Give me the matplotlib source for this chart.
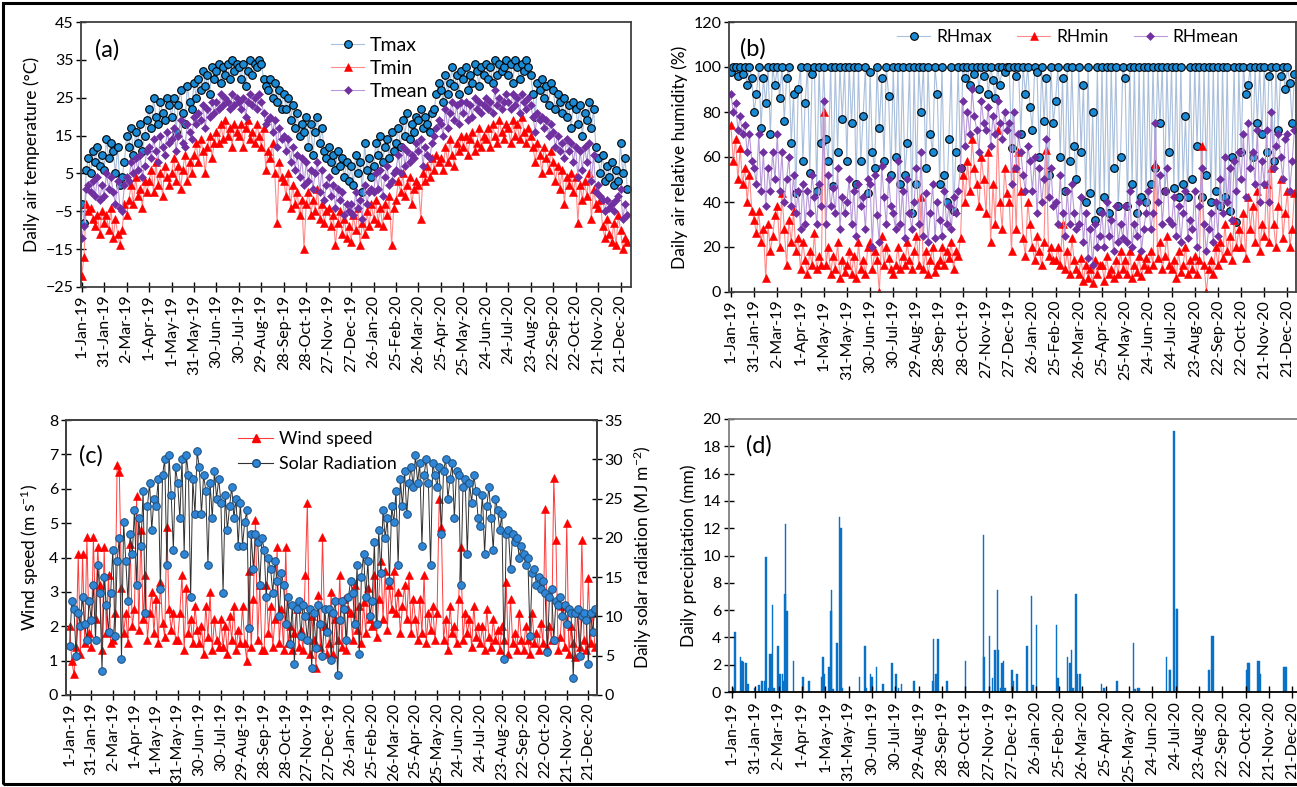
import numpy as np
import matplotlib
matplotlib.use("Agg")
import matplotlib.pyplot as plt
from matplotlib.patches import Rectangle
from matplotlib.lines import Line2D

plt.rcParams['font.family'] = ['Lato', 'DejaVu Sans']
plt.rcParams['mathtext.default'] = 'regular'

# ---------------- data (read every 3 days, day 0 = 1-Jan-2019) ----------------
days = np.arange(0, 730, 3)

tick_days = list(range(0, 721, 30))
tick_labels = ['1-Jan-19', '31-Jan-19', '2-Mar-19', '1-Apr-19', '1-May-19', '31-May-19',
               '30-Jun-19', '30-Jul-19', '29-Aug-19', '28-Sep-19', '28-Oct-19', '27-Nov-19',
               '27-Dec-19', '26-Jan-20', '25-Feb-20', '26-Mar-20', '25-Apr-20', '25-May-20',
               '24-Jun-20', '24-Jul-20', '23-Aug-20', '22-Sep-20', '22-Oct-20', '21-Nov-20',
               '21-Dec-20']

tmax = [-3, -8, 6, 9, 5, 11, 8, 12, 7, 10,
        6, 14, 9, 13, 11, 5, 12, 2, 4, 8,
        15, 12, 17, 10, 16, 13, 18, 11, 15, 19,
        22, 17, 25, 20, 18, 24, 21, 19, 25, 23,
        20, 25, 16, 23, 27, 21, 18, 28, 24, 22,
        29, 25, 30, 27, 32, 28, 31, 26, 33, 30,
        32, 34, 29, 33, 31, 34, 30, 35, 32, 34,
        33, 30, 34, 28, 32, 35, 31, 34, 33, 35,
        34, 30, 28, 27, 30, 25, 29, 24, 27, 22,
        26, 22, 25, 19, 23, 17, 21, 15, 18, 16,
        20, 12, 18, 10, 16, 20, 13, 17, 11, 9,
        12, 8, 10, 6, 11, 7, 9, 4, 8, 3,
        7, 2, 10, 5, 8, 0, 13, 6, 9, 4,
        7, 13, 10, 15, 8, 12, 14, 9, 16, 11,
        13, 17, 12, 19, 15, 21, 14, 18, 16, 20,
        19, 22, 17, 20, 18, 16, 21, 22, 26, 29,
        27, 24, 31, 26, 29, 33, 28, 31, 26, 32,
        30, 33, 27, 31, 29, 34, 32, 28, 33, 31,
        34, 30, 33, 29, 35, 31, 34, 32, 33, 35,
        31, 34, 29, 35, 33, 30, 34, 32, 35, 33,
        31, 26, 20, 29, 27, 30, 25, 28, 23, 29,
        27, 22, 26, 24, 21, 25, 20, 23, 17, 24,
        22, 18, 23, 15, 21, 19, 24, 17, 22, 12,
        9, 5, 10, 3, 7, 4, 8, 2, 6, 3,
        13, 5, 9, 1]
tmin = [-22, -17, -3, -5, -4, -7, -9, -6, -11, -5,
        -8, -6, -10, -4, -12, -7, -11, -14, -10, -3,
        -6, -2, 2, -3, 4, -1, 1, -4, 3, 0,
        3, 6, 0, 8, 2, 5, -1, 7, 4, 2,
        5, 9, 3, 7, 1, 6, 10, 3, 8, 5,
        10, 13, 8, 14, 11, 5, 12, 15, 9, 13,
        16, 13, 18, 14, 19, 15, 17, 12, 18, 16,
        15, 18, 12, 17, 19, 14, 16, 13, 18, 15,
        12, 17, 6, 11, 9, 13, 5, -8, 8, 4,
        3, -1, 5, -4, 2, -3, 0, -6, -2, -15,
        -3, 0, -6, -2, -5, 1, -7, -3, -8, -5,
        -4, -9, -6, -14, -8, -5, -11, -7, -12, -9,
        -13, -6, -10, -4, -14, -8, -11, -5, -9, -3,
        -7, -2, -8, -4, -9, -3, -6, -1, -14, -4,
        -2, 3, 0, 5, -1, 2, 4, -3, 1, 3,
        2, -7, 5, 3, 7, 4, 9, 6, 10, 8,
        9, 6, 12, 8, 14, 10, 7, 13, 11, 15,
        12, 15, 10, 14, 16, 11, 13, 17, 12, 15,
        14, 17, 12, 18, 15, 13, 19, 16, 14, 18,
        17, 13, 19, 15, 18, 14, 20, 16, 13, 17,
        15, 12, 8, 13, 10, 5, 12, 9, 6, 11,
        8, 3, 7, 1, 6, -3, 4, 2, 5, 0,
        4, -8, 2, -2, 3, -1, 5, -7, 1, -3,
        -4, -2, -9, -12, -7, -11, -13, -8, -14, -6,
        -10, -15, -12, -13]
tmean = [-12, -9, 1, 2, 0, 3, -1, 4, -2, 2,
         -1, 5, 1, 4, 0, -3, 3, -4, -5, 2,
         4, 3, 8, 5, 9, 6, 10, 4, 7, 11,
         12, 9, 14, 11, 8, 15, 12, 10, 16, 13,
         14, 17, 11, 15, 19, 13, 12, 18, 16, 14,
         20, 18, 21, 19, 23, 17, 22, 20, 24, 21,
         24, 22, 26, 23, 25, 24, 22, 26, 23, 25,
         24, 22, 25, 20, 24, 26, 23, 25, 22, 26,
         24, 21, 18, 19, 20, 16, 19, 12, 17, 14,
         15, 11, 14, 8, 12, 6, 10, 4, 9, 2,
         8, 3, 6, 1, 5, 8, 0, 6, -2, 2,
         4, -1, 2, -4, 1, -2, 0, -6, -3, -5,
         -3, -6, 0, -4, -2, -7, 2, -3, 0, 1,
         0, 5, 1, 6, -1, 4, 7, 2, 3, 5,
         6, 10, 5, 12, 7, 11, 8, 10, 9, 13,
         11, 14, 7, 12, 10, 9, 13, 15, 17, 19,
         18, 15, 22, 17, 21, 24, 19, 23, 18, 24,
         21, 24, 19, 23, 20, 25, 22, 24, 21, 23,
         25, 22, 24, 21, 27, 23, 25, 22, 24, 26,
         24, 22, 26, 23, 25, 21, 26, 24, 22, 25,
         23, 20, 16, 21, 19, 20, 17, 19, 15, 18,
         16, 12, 15, 11, 13, 9, 14, 11, 13, 8,
         12, 4, 11, 6, 12, 8, 13, 3, 10, 0,
         2, -1, -2, -5, -2, -4, -3, -5, -2, -1,
         1, -7, -3, -6]

rhmax = [98, 100, 100, 96, 100, 97, 100, 92, 100, 95,
         80, 88, 100, 73, 95, 84, 100, 70, 100, 92,
         100, 86, 100, 76, 95, 100, 66, 88, 44, 90,
         100, 58, 84, 100, 53, 97, 100, 45, 100, 66,
         100, 68, 58, 100, 47, 100, 62, 100, 77, 100,
         58, 100, 75, 100, 48, 100, 58, 78, 100, 44,
         98, 62, 55, 100, 73, 95, 58, 100, 87, 52,
         100, 60, 100, 48, 100, 52, 66, 100, 35, 100,
         48, 100, 80, 100, 55, 100, 70, 62, 100, 88,
         48, 100, 52, 40, 68, 100, 36, 62, 100, 55,
         100, 95, 100, 92, 100, 97, 100, 90, 100, 96,
         100, 88, 100, 94, 86, 100, 92, 100, 98, 100,
         100, 64, 100, 96, 100, 70, 100, 88, 100, 82,
         72, 100, 98, 60, 100, 76, 95, 52, 100, 75,
         85, 100, 60, 95, 45, 100, 58, 100, 65, 50,
         100, 62, 92, 40, 100, 44, 80, 32, 100, 36,
         100, 42, 100, 35, 100, 55, 100, 38, 60, 100,
         95, 38, 100, 48, 100, 35, 100, 42, 100, 40,
         100, 48, 100, 55, 100, 75, 100, 45, 100, 62,
         100, 46, 100, 42, 100, 48, 78, 42, 100, 50,
         100, 65, 100, 42, 100, 52, 100, 40, 100, 45,
         100, 38, 100, 42, 100, 36, 60, 100, 31, 100,
         62, 100, 88, 92, 100, 60, 100, 75, 100, 70,
         100, 62, 96, 100, 58, 100, 72, 96, 100, 90,
         100, 93, 75, 97]
rhmin = [74, 58, 68, 50, 64, 48, 55, 40, 52, 36,
         32, 26, 36, 22, 28, 6, 30, 18, 25, 34,
         38, 20, 44, 28, 12, 32, 22, 36, 18, 24,
         10, 22, 14, 8, 18, 12, 26, 10, 16, 12,
         80, 12, 20, 8, 16, 10, 22, 6, 14, 9,
         12, 18, 8, 16, 6, 22, 10, 14, 8, 20,
         22, 10, 18, 14, 0, 25, 12, 20, 15, 10,
         8, 12, 20, 10, 16, 12, 22, 14, 10, 18,
         25, 12, 42, 10, 18, 8, 14, 20, 9, 12,
         14, 20, 12, 18, 15, 22, 10, 18, 16, 24,
         52, 40, 58, 45, 68, 55, 48, 38, 60, 50,
         35, 62, 22, 48, 30, 72, 40, 28, 55, 44,
         40, 18, 55, 28, 62, 45, 24, 16, 40, 30,
         20, 14, 25, 18, 12, 22, 63, 16, 20, 14,
         14, 20, 12, 30, 10, 18, 8, 24, 14, 10,
         8, 15, 5, 12, 6, 10, 4, 14, 8, 12,
         12, 5, 16, 8, 10, 6, 14, 8, 18, 10,
         14, 8, 18, 6, 12, 9, 16, 7, 12, 15,
         10, 18, 12, 57, 15, 22, 10, 16, 25, 12,
         10, 14, 6, 18, 9, 12, 20, 8, 14, 10,
         16, 8, 14, 65, 12, 0, 10, 14, 8, 20,
         12, 22, 15, 30, 18, 25, 14, 32, 20, 28,
         20, 35, 15, 42, 28, 38, 22, 45, 18, 30,
         25, 48, 22, 55, 30, 20, 38, 50, 24, 35,
         45, 20, 28, 44]
rhmean = [88, 80, 84, 72, 78, 70, 74, 62, 70, 58,
          55, 48, 70, 45, 62, 38, 55, 45, 62, 50,
          70, 45, 62, 40, 50, 60, 38, 52, 35, 45,
          28, 48, 30, 45, 35, 52, 42, 30, 48, 38,
          85, 30, 52, 38, 46, 35, 55, 28, 42, 35,
          40, 50, 30, 45, 25, 48, 38, 42, 28, 50,
          48, 20, 52, 34, 22, 56, 42, 30, 50, 38,
          35, 28, 58, 30, 45, 24, 50, 35, 28, 40,
          55, 30, 62, 25, 44, 22, 35, 48, 24, 40,
          32, 25, 45, 30, 38, 28, 42, 35, 45, 55,
          85, 65, 80, 70, 90, 78, 72, 62, 85, 75,
          72, 82, 65, 78, 70, 85, 75, 68, 80, 72,
          75, 48, 80, 55, 70, 62, 52, 45, 65, 58,
          45, 60, 35, 55, 40, 50, 68, 42, 55, 38,
          40, 30, 52, 35, 25, 45, 30, 48, 35, 28,
          30, 42, 22, 35, 15, 28, 12, 30, 20, 25,
          35, 20, 40, 25, 32, 18, 38, 22, 30, 24,
          38, 22, 45, 20, 30, 25, 40, 18, 28, 35,
          45, 28, 35, 75, 40, 52, 30, 45, 55, 32,
          30, 42, 25, 38, 22, 35, 45, 24, 32, 28,
          45, 20, 38, 55, 30, 18, 28, 35, 22, 40,
          25, 50, 35, 60, 40, 55, 32, 58, 45, 62,
          50, 70, 42, 75, 55, 62, 48, 72, 40, 58,
          48, 72, 40, 80, 55, 65, 70, 60, 50, 68,
          70, 45, 58, 72]

wind = [2.0, 1.0, 0.6, 1.4, 4.1, 1.2, 4.1, 1.5, 4.6, 1.8,
        1.4, 4.6, 2.2, 4.3, 3.2, 1.3, 4.3, 1.8, 3.5, 1.5,
        1.6, 2.4, 6.7, 6.5, 3.1, 1.8, 2.4, 1.5, 4.4, 2.0,
        2.5, 5.8, 1.9, 4.8, 2.2, 3.5, 1.6, 2.4, 3.0, 1.8,
        2.8, 1.5, 3.3, 2.1, 1.7, 4.9, 2.5, 1.9, 2.4, 1.6,
        1.6, 2.4, 3.5, 1.3, 3.1, 1.8, 2.2, 1.5, 2.6, 1.9,
        1.5, 2.0, 1.2, 2.6, 1.7, 3.0, 1.3, 2.2, 1.6, 1.4,
        2.2, 1.4, 2.0, 1.2, 2.3, 1.6, 2.6, 1.3, 1.9, 1.5,
        2.6, 1.5, 1.0, 3.6, 1.4, 2.8, 5.1, 1.6, 3.2, 1.3,
        1.3, 3.2, 1.8, 2.6, 1.4, 2.2, 4.3, 1.5, 2.5, 1.3,
        4.3, 1.5, 2.0, 1.3, 1.8, 2.5, 1.4, 1.9, 1.3, 3.5,
        5.6, 1.2, 2.3, 1.6, 0.8, 2.9, 1.4, 4.6, 2.0, 1.2,
        1.5, 3.0, 1.2, 2.2, 1.6, 3.5, 1.4, 2.8, 1.3, 2.5,
        2.4, 1.6, 3.2, 1.9, 2.6, 1.5, 2.7, 1.8, 3.1, 2.2,
        2.0, 3.5, 1.7, 2.8, 3.9, 2.2, 3.6, 1.9, 3.2, 2.5,
        3.6, 2.4, 3.0, 1.8, 2.6, 3.2, 2.2, 3.5, 1.8, 2.8,
        2.2, 1.6, 2.8, 1.8, 3.5, 1.5, 2.4, 1.9, 2.6, 1.6,
        2.4, 5.7, 4.9, 1.6, 2.2, 1.3, 2.6, 1.8, 2.0, 1.5,
        2.8, 4.3, 1.6, 2.4, 1.8, 2.2, 1.4, 2.6, 1.7, 2.0,
        1.5, 2.0, 1.3, 2.5, 1.7, 1.4, 2.2, 1.6, 1.9, 1.3,
        2.0, 1.6, 3.3, 1.2, 2.8, 1.5, 1.8, 1.3, 2.4, 1.6,
        1.3, 2.0, 1.6, 1.2, 2.4, 1.5, 1.8, 1.3, 2.1, 1.5,
        5.4, 1.4, 2.0, 1.6, 6.3, 4.5, 1.3, 1.7, 2.6, 1.4,
        5.0, 1.2, 2.0, 1.5, 1.1, 2.4, 1.4, 4.5, 1.6, 1.3,
        3.4, 1.5, 2.4, 1.4]
solar = [6.2, 12.0, 11.0, 5.0, 10.5, 8.8, 12.5, 9.0, 7.0, 12.0,
         9.5, 14.0, 7.0, 16.5, 13.0, 3.1, 15.0, 11.5, 8.0, 13.0,
         18.5, 7.5, 17.0, 20.0, 4.6, 22.0, 17.0, 12.0, 20.5, 18.0,
         23.5, 14.0, 22.5, 19.0, 26.0, 10.5, 24.0, 27.0, 21.0, 25.0,
         24.0, 27.5, 13.5, 28.0, 30.0, 16.5, 30.5, 25.5, 18.5, 29.0,
         27.0, 22.5, 30.0, 18.0, 30.5, 28.0, 12.5, 27.5, 23.0, 31.0,
         29.0, 23.0, 28.0, 26.0, 16.5, 27.0, 22.5, 28.5, 25.0, 27.5,
         24.5, 13.0, 25.5, 21.0, 24.0, 26.5, 22.5, 25.0, 19.0, 24.5,
         19.0, 22.0, 23.5, 8.5, 20.5, 16.0, 20.5, 19.5, 14.0, 20.0,
         18.5, 12.5, 17.5, 16.0, 13.0, 17.0, 14.5, 10.0, 15.5, 14.0,
         9.0, 12.5, 6.5, 11.5, 4.0, 11.0, 12.0, 7.5, 11.5, 10.0,
         7.0, 11.0, 3.5, 10.5, 6.0, 11.5, 9.0, 5.0, 11.0, 8.0,
         11.0, 4.5, 10.5, 12.0, 2.5, 9.5, 12.0, 11.0, 7.0, 12.5,
         14.5, 13.0, 9.0, 16.5, 5.2, 15.0, 18.0, 12.5, 17.0, 10.0,
         12.0, 19.5, 9.0, 21.0, 15.5, 23.5, 20.0, 22.5, 14.5, 24.0,
         22.0, 26.0, 16.5, 27.5, 24.0, 28.5, 23.0, 27.0, 29.0, 26.5,
         30.5, 27.0, 29.5, 19.0, 28.0, 30.0, 27.0, 16.5, 29.5, 28.0,
         26.5, 29.0, 20.5, 28.5, 30.0, 25.0, 27.5, 29.5, 22.5, 28.5,
         28.0, 14.0, 26.5, 27.5, 18.0, 27.0, 24.5, 28.0, 26.0, 22.5,
         21.5, 25.5, 18.0, 24.0, 26.5, 22.5, 18.5, 25.0, 23.5, 21.0,
         23.0, 4.6, 20.5, 21.0, 16.0, 20.5, 19.5, 20.0, 17.5, 19.0,
         18.0, 16.5, 17.5, 7.5, 15.5, 16.0, 14.0, 15.0, 13.5, 14.5,
         13.0, 5.5, 12.5, 13.5, 7.0, 12.0, 11.5, 12.5, 10.0, 11.5,
         9.0, 11.0, 10.5, 2.2, 10.5, 11.0, 5.0, 10.0, 10.5, 9.5,
         4.0, 10.5, 8.0, 11.0]

precip_day = [2, 4, 11, 13, 15, 18, 21, 29, 35, 39, 42, 44, 47, 49, 51, 52, 54, 59, 62, 65, 67, 68, 69, 71,
              79, 91, 99, 115, 117, 119, 125, 127, 128, 130, 135, 138, 140, 142, 164, 171, 173, 178, 180, 186,
              194, 206, 211, 214, 218, 234, 258, 259, 262, 265, 276, 300, 323, 324, 331, 335, 338, 341, 342,
              345, 347, 349, 351, 360, 362, 366, 379, 385, 387, 391, 417, 419, 431, 434, 436, 438, 442, 444,
              447, 475, 478, 495, 516, 518, 521, 523, 558, 562, 563, 568, 571, 572, 613, 616, 618, 661, 663,
              664, 675, 677, 678, 709, 711, 712]
precip_mm = [0.3, 4.4, 2.6, 2.3, 2.2, 2.1, 0.6, 0.3, 0.5, 0.8, 0.8, 9.9, 0.3, 2.8, 2.8, 6.4, 0.3, 3.4, 1.3, 1.3, 0.8, 7.2, 12.3, 5.9,
             2.3, 1.1, 0.8, 1.1, 2.6, 1.3, 1.8, 5.9, 7.5, 0.2, 3.6, 12.8, 12.0, 0.3, 1.1, 3.4, 0.3, 1.3, 1.1, 1.8,
             0.6, 2.1, 1.3, 0.3, 0.6, 0.8, 0.8, 3.9, 1.3, 3.9, 0.8, 2.3, 11.5, 2.6, 4.1, 1.0, 3.1, 7.5, 3.1,
             0.3, 2.1, 2.3, 0.3, 1.6, 0.8, 1.3, 3.4, 7.0, 0.5, 4.9, 4.9, 1.0, 2.6, 2.1, 3.1, 0.3, 7.2, 1.3,
             1.3, 0.6, 0.3, 0.8, 3.6, 0.2, 0.3, 0.3, 2.6, 1.6, 1.6, 19.1, 6.1, 6.1, 1.6, 4.1, 4.1, 1.6, 2.1,
             2.1, 2.3, 2.3, 1.3, 1.8, 1.8, 1.8]

# ---------------- figure ----------------
W, H = 1297, 787
fig = plt.figure(figsize=(W / 100, H / 100), dpi=100)

def px_axes(l, t, r, b):
    return fig.add_axes([l / W, 1 - b / H, (r - l) / W, (b - t) / H])

TICK_FS = 11.5
LAB_FS = 12.5
LET_FS = 17
SPINE = '#404040'

def style(ax, xlim):
    ax.set_xlim(*xlim)
    ax.set_xticks(tick_days)
    ax.set_xticklabels(tick_labels, rotation=90, fontsize=TICK_FS)
    ax.tick_params(axis='both', direction='inout', length=7, width=1.0, colors='black',
                   labelsize=TICK_FS, pad=2)
    for s in ax.spines.values():
        s.set_color(SPINE)
        s.set_linewidth(1.3)

C_MAX = '#1a8ad4'
L_MAX = '#a9bfdc'
C_MIN = '#ff0000'
L_MIN = '#ff8a8a'
C_MEAN = '#7030a0'
L_MEAN = '#b89ad8'

MAX_KW = dict(color=L_MAX, lw=0.8, marker='o', ms=5.5, mfc=C_MAX, mec='black', mew=0.8)
MIN_KW = dict(color=L_MIN, lw=0.8, marker='^', ms=5.5, mfc=C_MIN, mec=C_MIN, mew=0.4)
MEAN_KW = dict(color=L_MEAN, lw=0.8, marker='D', ms=3.8, mfc=C_MEAN, mec=C_MEAN, mew=0.4)

# (a) temperature
axa = px_axes(81, 22, 631, 287)
axa.plot(days, tmax, label='Tmax', **MAX_KW)
axa.plot(days, tmin, label='Tmin', **MIN_KW)
axa.plot(days, tmean, label='Tmean', **MEAN_KW)
axa.set_ylim(-25, 45)
axa.set_yticks(range(-25, 46, 10))
style(axa, (-1, 734))
axa.set_ylabel('Daily air temperature (\u00b0C)', fontsize=LAB_FS, labelpad=4)
axa.text(0.025, 0.895, '(a)', transform=axa.transAxes, fontsize=LET_FS, va='center')
axa.legend(loc='upper left', bbox_to_anchor=(0.43, 0.995), frameon=False, fontsize=14,
           handlelength=1.7, handletextpad=0.3, labelspacing=0.3, borderaxespad=0.3)

# (b) relative humidity
axb = px_axes(729, 22, 1296, 292)
axb.plot(days, rhmax, label='RHmax', **MAX_KW)
axb.plot(days, rhmin, label='RHmin', **MIN_KW)
axb.plot(days, rhmean, label='RHmean', **MEAN_KW)
axb.set_ylim(0, 120)
axb.set_yticks(range(0, 121, 20))
style(axb, (-2.5, 731))
axb.set_ylabel('Daily air relative humidity (%)', fontsize=LAB_FS, labelpad=4)
axb.text(0.02, 0.9, '(b)', transform=axb.transAxes, fontsize=LET_FS, va='center')
axb.legend(loc='upper left', bbox_to_anchor=(0.275, 1.02), ncol=3, frameon=False, fontsize=12.5,
           handlelength=1.9, handletextpad=0.35, columnspacing=1.45, borderaxespad=0.3)

# (c) wind speed and solar radiation
axc = px_axes(66, 420, 597, 695)
axc.plot(days, wind, color='#ff3b3b', lw=0.7, marker='^', ms=5.5, mfc=C_MIN, mec=C_MIN, mew=0.4)
axc.set_ylim(0, 8)
axc.set_yticks(range(0, 9))
style(axc, (-5, 732))
axc.set_ylabel('Wind speed (m s$^{-1}$)', fontsize=LAB_FS, labelpad=6)
axc2 = axc.twinx()
axc2.plot(days, solar, color='#303030', lw=0.7, marker='o', ms=5.5, mfc='#2f86d6', mec='#1f4e79', mew=0.7)
axc2.set_ylim(0, 35)
axc2.set_yticks(range(0, 36, 5))
axc2.tick_params(axis='y', direction='inout', length=7, width=1.0, labelsize=TICK_FS, pad=2)
for s in axc2.spines.values():
    s.set_color(SPINE)
    s.set_linewidth(1.3)
axc2.set_ylabel('Daily solar radiation (MJ m$^{-2}$)', fontsize=LAB_FS, labelpad=6)
axc2.text(0.025, 0.87, '(c)', transform=axc.transAxes, fontsize=LET_FS, va='center')
h_w = Line2D([], [], color='#ff3b3b', lw=0.8, marker='^', ms=5.5, mfc=C_MIN, mec=C_MIN)
h_s = Line2D([], [], color='#303030', lw=0.8, marker='o', ms=5.5, mfc='#2f86d6', mec='#1f4e79')
axc2.legend([h_w, h_s], ['Wind speed', 'Solar Radiation'], loc='upper left', bbox_to_anchor=(0.30, 1.005),
            frameon=False, fontsize=12.8, handlelength=2.0, handletextpad=0.3, labelspacing=0.5,
            borderaxespad=0.3)

# (d) precipitation
axd = px_axes(729, 419, 1301, 692)
axd.bar(precip_day, precip_mm, width=2.0, color='#0a72c6', edgecolor='#0a72c6', linewidth=0.3)
axd.set_ylim(0, 20)
axd.set_yticks(range(0, 21, 2))
style(axd, (-3.7, 731))
for k in ('top', 'right', 'left'):
    axd.spines[k].set_color('#7f7f7f')
axd.spines['bottom'].set_color('black')
axd.tick_params(axis='x', length=9)
axd.set_ylabel('Daily precipitation (mm)', fontsize=LAB_FS, labelpad=4)
axd.text(0.03, 0.9, '(d)', transform=axd.transAxes, fontsize=LET_FS, va='center')

# outer frame
fig.patches.append(Rectangle((3 / W, 3 / H), 1.0, 1 - 6 / H, transform=fig.transFigure,
                             fill=False, edgecolor='black', linewidth=2.2, clip_on=False))

fig.savefig('out.png', dpi=100)
